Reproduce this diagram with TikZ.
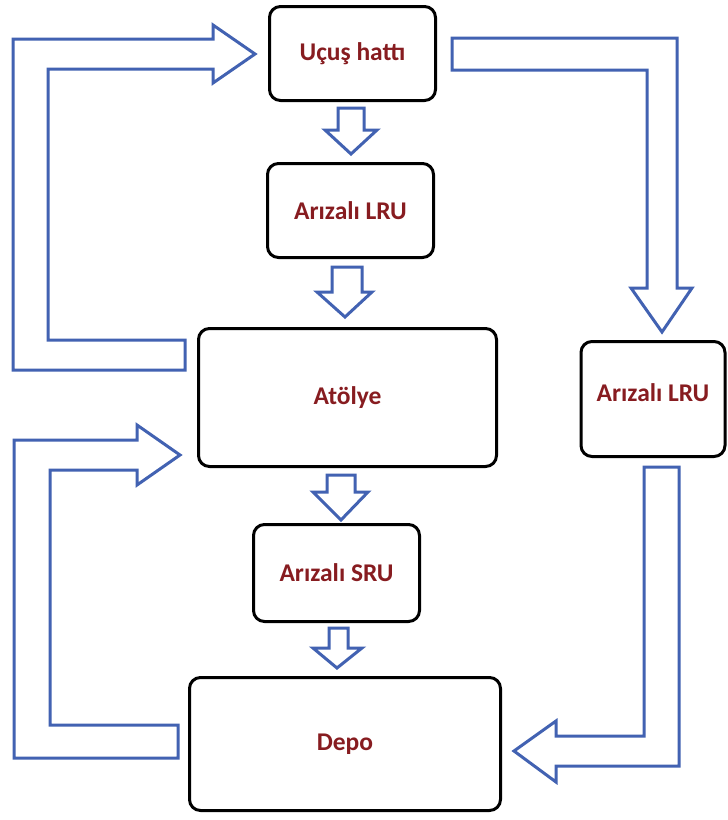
\documentclass[tikz,border=0pt]{standalone}
\usepackage{fontspec}
\setmainfont{Carlito}
\definecolor{arrowblue}{RGB}{66,98,178}
\definecolor{labelred}{RGB}{135,28,32}
\begin{document}
\begin{tikzpicture}[x=1pt,y=-1pt,
  box/.style={draw=black,line width=3pt,rounded corners=11pt,fill=white,
    font=\bfseries\fontsize{25.5}{29}\selectfont,text=labelred,inner sep=0pt},
  blockarrow/.style={draw=arrowblue,line width=3pt,fill=white,line join=miter}]
\useasboundingbox (0,0) rectangle (728,820);
\fill[white] (0,0) rectangle (728,820);
% nodes
\node[box,minimum width=166pt,minimum height=94pt] (ucus) at (352.5,53.5) {Uçuş hattı};
\node[box,minimum width=166pt,minimum height=94pt] (lru1) at (350.5,210.5) {Arızalı LRU};
\node[box,minimum width=298pt,minimum height=138pt] (atolye) at (347.5,397.5) {Atölye};
\node[box,minimum width=166pt,minimum height=97pt] (sru) at (336.5,573) {Arızalı SRU};
\node[box,minimum width=311pt,minimum height=133pt] (depo) at (345,744) {Depo};
\node[box,minimum width=144pt,minimum height=115pt,text depth=12pt] (lru2) at (653,399) {Arızalı LRU};
% small down arrows
\draw[blockarrow] (338,108) -- (364,108) -- (364,130) -- (377,130) -- (351,154) -- (325,130) -- (338,130) -- cycle;
\draw[blockarrow] (332,267) -- (362,267) -- (362,292) -- (372,292) -- (345,317) -- (317,292) -- (332,292) -- cycle;
\draw[blockarrow] (327,475) -- (355,475) -- (355,492) -- (368,492) -- (341,520) -- (313,492) -- (327,492) -- cycle;
\draw[blockarrow] (329,628) -- (348,628) -- (348,648) -- (362,648) -- (337,668) -- (313,648) -- (329,648) -- cycle;
% L-shaped arrows
\draw[blockarrow] (185,370) -- (13,370) -- (13,39) -- (213,39) -- (213,25) -- (255,54) -- (213,83) -- (213,69) -- (48,69) -- (48,340) -- (185,340) -- cycle;
\draw[blockarrow] (452,38) -- (677,38) -- (677,288) -- (692,288) -- (662,332) -- (631,288) -- (647,288) -- (647,70) -- (452,70) -- cycle;
\draw[blockarrow] (644,467) -- (679,467) -- (679,766) -- (556,766) -- (556,782) -- (514,751) -- (556,721) -- (556,736) -- (644,736) -- cycle;
\draw[blockarrow] (178,758) -- (14,758) -- (14,440) -- (137,440) -- (137,425) -- (180,455) -- (137,485) -- (137,470) -- (50,470) -- (50,725) -- (178,725) -- cycle;
\end{tikzpicture}
\end{document}
